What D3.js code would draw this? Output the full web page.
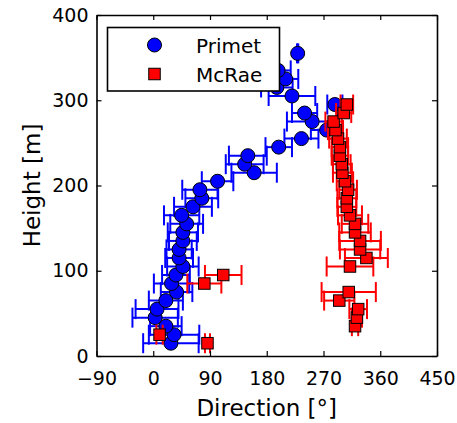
<!DOCTYPE html>
<html><head><meta charset="utf-8">
<script src="https://cdn.jsdelivr.net/npm/d3@7"></script>
<style>body{margin:0;background:#fff}</style></head>
<body>
<svg id="c" width="457" height="423"></svg>
<script>
// Primet (blue circles)
const heightsP = [15,25,35,45,55,65,75,85,95,105,115,125,135,145,155,165,175,185,195,205,215,225,235,245,255,265,275,285,295,305,315,325,335,355];
const dirP     = [28,33,20,3,6,20,37,29,36,47,41,41,47,47,53,45,63,77,74,102,160,145,150,199,235,275,252,240,288,220,196,210,198,229];
const errP     = [44,40,25,36,34,27,25,28,22,25,22,20,22,24,26,28,30,26,28,25,36,30,30,21,27,25,40,20,12,37,25,20,20,1];
// McRae (red squares)
const heightsM = [15,25,35,45,55,65,75,85,95,105,115,125,135,145,155,165,175,185,195,205,215,225,235,245,255,265,275,285,295];
const dirM     = [86,10,320,323,325,295,310,81,111,312,338,328,328,320,320,312,307,307,309,304,300,299,296,296,293,289,286,302,307];
const errM     = [4,5,5,8,14,24,43,27,29,37,34,32,33,25,21,19,15,15,14,13,15,14,13,13,14,12,13,12,10];
const xTicks = [-90,0,90,180,270,360,450];
const yTicks = [0,100,200,300,400];
const seriesNames = ["Primet","McRae"];

const svg = d3.select("#c");
const L=96.5, R=437, T=15, B=356;
const x = d3.scaleLinear().domain([-90,450]).range([L,R]);
const y = d3.scaleLinear().domain([0,400]).range([B,T]);
const FONT = "DejaVu Sans";

svg.append("rect").attr("x",0).attr("y",0).attr("width",457).attr("height",423).attr("fill","#fff");

function drawSeries(hs, ds, es, color, shape){
  const g = svg.append("g");
  hs.forEach((h,i)=>{
    const cy=y(h), x0=x(ds[i]-es[i]), x1=x(ds[i]+es[i]);
    g.append("line").attr("x1",x0).attr("x2",x1).attr("y1",cy).attr("y2",cy)
      .attr("stroke",color).attr("stroke-width",2);
    [x0,x1].forEach(xx=>g.append("line").attr("x1",xx).attr("x2",xx)
      .attr("y1",cy-10).attr("y2",cy+10).attr("stroke",color).attr("stroke-width",2));
  });
  hs.forEach((h,i)=>{
    if(shape==="circle"){
      g.append("circle").attr("cx",x(ds[i])).attr("cy",y(h)).attr("r",7)
        .attr("fill",color).attr("stroke","#000").attr("stroke-width",1);
    } else {
      g.append("rect").attr("x",x(ds[i])-5.75).attr("y",y(h)-5.75)
        .attr("width",11.5).attr("height",11.5)
        .attr("fill",color).attr("stroke","#000").attr("stroke-width",1);
    }
  });
}
drawSeries(heightsP, dirP, errP, "#0000ff", "circle");
drawSeries(heightsM, dirM, errM, "#ff0000", "square");

// axes
const fmt = d => d<0 ? "\u2212"+Math.abs(d) : String(d);
svg.append("g").attr("transform",`translate(0,${B})`)
  .call(d3.axisBottom(x).tickValues(xTicks).tickFormat(fmt).tickSize(-5).tickSizeOuter(0).tickPadding(16));
svg.append("g").attr("transform",`translate(${L},0)`)
  .call(d3.axisLeft(y).tickValues(yTicks).tickSize(-5).tickSizeOuter(0).tickPadding(8));
svg.append("g").attr("transform",`translate(0,${T})`)
  .call(d3.axisTop(x).tickValues(xTicks).tickFormat("").tickSize(-5).tickSizeOuter(0));
svg.append("g").attr("transform",`translate(${R},0)`)
  .call(d3.axisRight(y).tickValues(yTicks).tickFormat("").tickSize(-5).tickSizeOuter(0));
svg.selectAll(".domain").attr("stroke","#000").attr("stroke-width",1.6);
svg.selectAll(".tick line").attr("stroke","#000").attr("stroke-width",1.2);
svg.selectAll(".tick text").attr("font-family",FONT).attr("font-size",19).attr("fill","#000");

// axis labels
svg.append("text").attr("x",(L+R)/2).attr("y",416).attr("text-anchor","middle")
  .attr("font-family",FONT).attr("font-size",23).text("Direction [°]");
svg.append("text").attr("transform",`translate(40,${(T+B)/2}) rotate(-90)`).attr("text-anchor","middle")
  .attr("font-family",FONT).attr("font-size",23).text("Height [m]");

// legend
const lg = svg.append("g");
lg.append("rect").attr("x",107.5).attr("y",27.5).attr("width",172).attr("height",63.5)
  .attr("fill","#fff").attr("stroke","#000").attr("stroke-width",1.6);
lg.append("circle").attr("cx",154.5).attr("cy",45).attr("r",7)
  .attr("fill","#0000ff").attr("stroke","#000").attr("stroke-width",1);
lg.append("rect").attr("x",154.5-5.75).attr("y",74-5.75).attr("width",11.5).attr("height",11.5)
  .attr("fill","#ff0000").attr("stroke","#000").attr("stroke-width",1);
lg.append("text").attr("x",196).attr("y",52.5).attr("font-family",FONT).attr("font-size",20).text(seriesNames[0]);
lg.append("text").attr("x",196).attr("y",81.5).attr("font-family",FONT).attr("font-size",20).text(seriesNames[1]);
</script>
</body></html>
